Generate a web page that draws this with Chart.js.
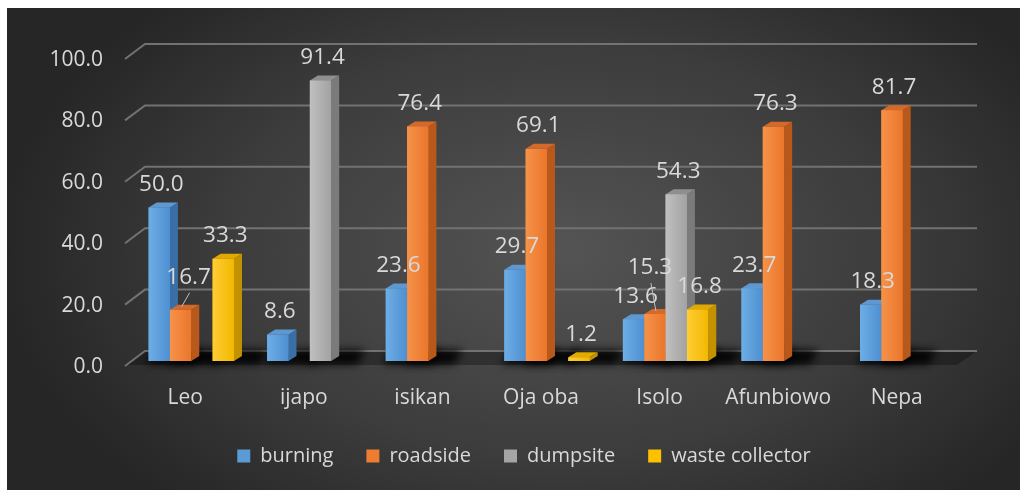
<!DOCTYPE html>
<html><head><meta charset="utf-8">
<script src="https://cdn.jsdelivr.net/npm/chart.js@4.4.0/dist/chart.umd.min.js"></script>
<style>html,body{margin:0;padding:0;background:#fff;overflow:hidden}#wrap{width:1020px;height:490px;position:relative}</style>
</head><body><div id="wrap"><canvas id="c" width="1020" height="490"></canvas></div>
<script>
const categories = ['Leo', 'ijapo', 'isikan', 'Oja oba', 'Isolo', 'Afunbiowo', 'Nepa'];
const seriesNames = ['burning', 'roadside', 'dumpsite', 'waste collector'];
const burning = [50.0, 8.6, 23.6, 29.7, 13.6, 23.7, 18.3];
const roadside = [16.7, null, 76.4, 69.1, 15.3, 76.3, 81.7];
const dumpsite = [null, 91.4, null, null, 54.3, null, null];
const wasteCollector = [33.3, null, null, 1.2, 16.8, null, null];
const yMin = 0, yMax = 100, yStep = 20;

const TEXT = '#d9d9d9';
const FONT = 'Open Sans';
const palette = [
  {base: '#5b9bd5', front: ['#6eaee6', '#4d8fd0'], side: '#3a6ea6', top: '#5f97d0'},
  {base: '#ed7d31', front: ['#f69249', '#ea762b'], side: '#b8581b', top: '#d5692a'},
  {base: '#a5a5a5', front: ['#c0c0c0', '#a2a2a2'], side: '#7b7b7b', top: '#8f8f8f'},
  {base: '#ffc000', front: ['#ffcd35', '#f2b800'], side: '#c29200', top: '#e2aa00'}
];
const depth = {dx: 8, dy: -5};
const labelNudge = {'1,0': [6, -9], '1,4': [-7, -23]};
const legendShift = 86;

function eachBar(chart, fn) {
  chart.data.datasets.forEach((ds, i) => {
    chart.getDatasetMeta(i).data.forEach((bar, j) => {
      if (ds.data[j] == null) return;
      fn(bar.getProps(['x', 'y', 'base', 'width'], true), i, j, ds.data[j]);
    });
  });
}

const threeD = {
  id: 'threeD',
  afterLayout(chart) {
    if (chart.legend) chart.legend.left = legendShift;
  },
  beforeDraw(chart) {
    const ctx = chart.ctx;
    ctx.save();
    ctx.fillStyle = '#ffffff';
    ctx.fillRect(0, 0, chart.width, chart.height);
    ctx.beginPath();
    ctx.rect(7, 8, chart.width - 7, chart.height - 8);
    ctx.clip();
    ctx.translate(560, 250);
    ctx.scale(1, 0.62);
    const g = ctx.createRadialGradient(0, 0, 0, 0, 0, 560);
    g.addColorStop(0, '#545454');
    g.addColorStop(0.6, '#3c3c3c');
    g.addColorStop(1, '#262626');
    ctx.fillStyle = g;
    ctx.fillRect(-700, -500, 1400, 1000);
    ctx.restore();
  },
  beforeDatasetsDraw(chart) {
    const ctx = chart.ctx, y = chart.scales.y, a = chart.chartArea;
    const p0 = y.getPixelForValue(0);
    ctx.save();
    // faint floor
    ctx.beginPath();
    ctx.moveTo(a.left - 7, p0 + 4);
    ctx.lineTo(a.right - 5, p0 + 4);
    ctx.lineTo(a.right + 15, p0 - 10);
    ctx.lineTo(a.left + 13, p0 - 10);
    ctx.closePath();
    ctx.fillStyle = 'rgba(10,10,10,0.35)';
    ctx.fill();
    // grid
    ctx.strokeStyle = '#727272';
    ctx.lineWidth = 2;
    y.ticks.forEach(t => {
      const py = y.getPixelForValue(t.value);
      ctx.beginPath();
      ctx.moveTo(a.left - 7, py + 5);
      ctx.lineTo(a.left + 13, py - 10);
      ctx.lineTo(a.right + 15, py - 10);
      ctx.stroke();
    });
    // bar shadows on the floor
    ctx.filter = 'blur(4px)';
    ctx.fillStyle = 'rgba(0,0,0,0.9)';
    eachBar(chart, (b) => {
      const l = b.x - b.width / 2, r = b.x + b.width / 2;
      ctx.beginPath();
      ctx.moveTo(l - 3, b.base + 3);
      ctx.lineTo(r + 26, b.base + 3);
      ctx.lineTo(r + 34, b.base - 11);
      ctx.lineTo(l + 6, b.base - 11);
      ctx.closePath();
      ctx.fill();
    });
    ctx.filter = 'none';
    ctx.restore();
  },
  afterDatasetsDraw(chart) {
    const ctx = chart.ctx;
    ctx.save();
    const {dx, dy} = depth;
    eachBar(chart, (b, i) => {
      const col = palette[i];
      const {x, y, base, width} = b;
      const l = x - width / 2, r = x + width / 2;
      ctx.beginPath();
      ctx.moveTo(r, y); ctx.lineTo(r + dx, y + dy); ctx.lineTo(r + dx, base + dy); ctx.lineTo(r, base);
      ctx.closePath(); ctx.fillStyle = col.side; ctx.fill();
      ctx.beginPath();
      ctx.moveTo(l, y); ctx.lineTo(r, y); ctx.lineTo(r + dx, y + dy); ctx.lineTo(l + dx, y + dy);
      ctx.closePath(); ctx.fillStyle = col.top; ctx.fill();
      const g = ctx.createLinearGradient(l, 0, r, 0);
      g.addColorStop(0, col.front[0]); g.addColorStop(1, col.front[1]);
      ctx.fillStyle = g;
      ctx.fillRect(l, y, r - l, base - y);
    });
    ctx.font = '22.5px "' + FONT + '"';
    ctx.textAlign = 'center';
    ctx.textBaseline = 'middle';
    eachBar(chart, (b, i, j, v) => {
      const key = i + ',' + j;
      const n = labelNudge[key] || [0, 0];
      const lx = b.x + 2 + n[0], ly = b.y - 23 + n[1];
      if (labelNudge[key]) {
        ctx.strokeStyle = '#bfbfbf'; ctx.lineWidth = 1;
        ctx.beginPath(); ctx.moveTo(lx + 1, ly + 15); ctx.lineTo(b.x + 1, b.y - 3); ctx.stroke();
      }
      ctx.fillStyle = TEXT;
      ctx.fillText(v.toFixed(1), lx, ly);
    });
    ctx.restore();
  }
};

const seriesData = [burning, roadside, dumpsite, wasteCollector];
new Chart(document.getElementById('c'), {
  type: 'bar',
  data: {
    labels: categories,
    datasets: seriesData.map((d, i) => ({
      label: seriesNames[i],
      data: d,
      backgroundColor: palette[i].base,
      borderWidth: 0,
      categoryPercentage: 0.72,
      barPercentage: 1.0
    }))
  },
  options: {
    responsive: false,
    animation: false,
    devicePixelRatio: 1,
    layout: {padding: {left: 0, right: 58, top: 54, bottom: 14}},
    scales: {
      x: {
        grid: {display: false, drawTicks: false},
        border: {display: false},
        ticks: {color: TEXT, font: {family: FONT, size: 21}, padding: 24, labelOffset: -6, autoSkip: false, maxRotation: 0},
        afterFit(s) { s.height = 52; }
      },
      y: {
        min: yMin, max: yMax,
        grid: {display: false, drawTicks: false},
        border: {display: false},
        ticks: {stepSize: yStep, color: TEXT, font: {family: FONT, size: 21}, padding: 29, labelOffset: 6, callback: v => Number(v).toFixed(1)},
        afterFit(s) { s.width = 132; }
      }
    },
    plugins: {
      legend: {
        position: 'bottom',
        labels: {
          boxWidth: 13, boxHeight: 13, padding: 33, color: TEXT,
          font: {family: FONT, size: 20},
          sort: (a, b) => a.datasetIndex - b.datasetIndex
        }
      },
      tooltip: {enabled: false}
    }
  },
  plugins: [threeD]
});
</script></body></html>
